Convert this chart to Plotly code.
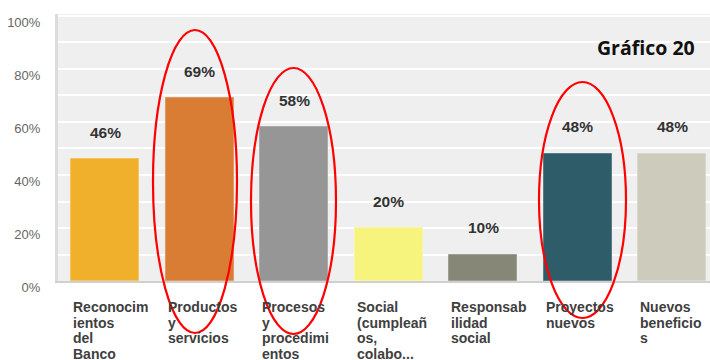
import plotly.graph_objects as go

# Survey results: share of respondents per category
categories = [
    "Reconocimientos del Banco",
    "Productos y servicios",
    "Procesos y procedimientos",
    "Social (cumpleaños, colabo...",
    "Responsabilidad social",
    "Proyectos nuevos",
    "Nuevos beneficios",
]
# Wrapped label lines as shown under each bar
label_lines = [
    ["Reconocim", "ientos", "del", "Banco"],
    ["Productos", "y", "servicios"],
    ["Procesos", "y", "procedimi", "entos"],
    ["Social", "(cumpleañ", "os,", "colabo..."],
    ["Responsab", "ilidad", "social"],
    ["Proyectos", "nuevos"],
    ["Nuevos", "beneficio", "s"],
]
values = [46, 69, 58, 20, 10, 48, 48]
value_labels = ["46%", "69%", "58%", "20%", "10%", "48%", "48%"]
bar_colors = ["#F0B02C", "#D97C34", "#969696", "#F7F47E", "#878777", "#2E5D69", "#CDCBBB"]
edge_colors = ["#F5C560", "#E39A62", "#ABABAB", "#FAF6A6", "#A0A092", "#557E88", "#DAD8CB"]
y_ticks = [0, 20, 40, 60, 80, 100]
y_tick_text = ["0%", "20%", "40%", "60%", "80%", "100%"]
title_text = "Gráfico 20"

W, H = 710, 360
L, R, T, B = 58, 0, 14, 79
BAR_W = 0.72
X_RANGE = [-0.5, 6.4]
Y_RANGE = [0, 100.75]
pw, ph = W - L - R, H - T - B

x_idx = list(range(len(categories)))

fig = go.Figure()
fig.add_trace(go.Bar(
    x=x_idx,
    y=values,
    width=BAR_W,
    marker=dict(color=bar_colors, line=dict(color=edge_colors, width=1)),
    hoverinfo="skip",
))

annotations = []
# value labels above each bar
for i, (v, t) in enumerate(zip(values, value_labels)):
    annotations.append(dict(
        x=i, y=v, xref="x", yref="y", text=f"<b>{t}</b>", showarrow=False,
        yanchor="middle", yshift=27,
        font=dict(family="Liberation Sans, Arial", size=15.5, color="#333333"),
    ))

# category labels, left aligned under the bar's left edge
for i, lines in enumerate(label_lines):
    for k, line in enumerate(lines):
        annotations.append(dict(
            x=i - BAR_W / 2, y=0, xref="x", yref="paper", text=f"<b>{line}</b>",
            showarrow=False, xanchor="left", yanchor="middle",
            yshift=-26 - 15.6 * k,
            font=dict(family="Liberation Sans, Arial", size=14, color="#404040"),
        ))

# chart title in the upper right corner (pixel position -> paper coords)
annotations.append(dict(
    x=(697 - L) / pw, y=(H - B - 48) / ph, xref="paper", yref="paper",
    text=f"<b>{title_text}</b>", showarrow=False, xanchor="right", yanchor="middle",
    font=dict(family="Open Sans", size=19.5, color="#111111"),
))

fig.update_layout(annotations=annotations)

# red ellipses around the highlighted bars (pixel boxes -> paper coords)
ellipse_px = [
    (153, 30, 237, 333),
    (251, 68, 336, 334),
    (539, 82, 626, 318),
]
for (x0, y0, x1, y1) in ellipse_px:
    fig.add_shape(
        type="circle", xref="paper", yref="paper",
        x0=(x0 - L) / pw, x1=(x1 - L) / pw,
        y0=(H - B - y1) / ph, y1=(H - B - y0) / ph,
        line=dict(color="#FF0000", width=2.2), layer="above",
    )

fig.update_layout(
    width=W, height=H,
    margin=dict(l=L, r=R, t=T, b=B, pad=0),
    paper_bgcolor="white",
    plot_bgcolor="#EFEFEF",
    showlegend=False,
    bargap=0,
    xaxis=dict(
        range=X_RANGE, showticklabels=False, showgrid=False, zeroline=False,
        showline=True, linecolor="#D0D0D0", linewidth=2, ticks="",
        fixedrange=True,
    ),
    yaxis=dict(
        range=Y_RANGE, tickvals=y_ticks, ticktext=y_tick_text,
        showgrid=True, gridcolor="#FFFFFF", gridwidth=2,
        zeroline=False, showline=True, linecolor="#DCDCDC", linewidth=3,
        ticks="", ticklabelstandoff=12, ticklabelshift=6,
        tickfont=dict(family="Liberation Sans, Arial", size=13, color="#666666"),
        fixedrange=True,
        minor=dict(dtick=10, tick0=0, showgrid=True, gridcolor="#FFFFFF", gridwidth=2),
    ),
)

fig.write_html("out.html")
